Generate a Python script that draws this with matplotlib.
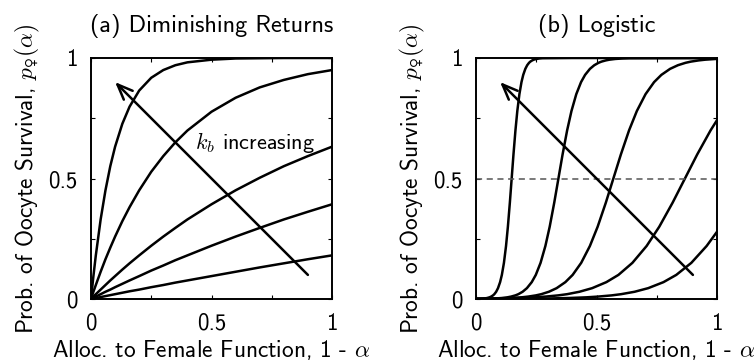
import matplotlib
matplotlib.use("Agg")
import matplotlib.pyplot as plt

plt.rcParams["font.family"] = ["cmss10", "DejaVu Sans"]
plt.rcParams["mathtext.fontset"] = "cm"
plt.rcParams["axes.unicode_minus"] = False

# (a) diminishing returns
x_dr = [0, 0.01, 0.02, 0.04, 0.06, 0.08, 0.1, 0.13, 0.16, 0.2, 0.25, 0.3, 0.35, 0.4,
        0.5, 0.6, 0.7, 0.8, 0.9, 1.0]
dr_curves = [
    [0, 0.095, 0.181, 0.330, 0.451, 0.551, 0.632, 0.727, 0.798, 0.865, 0.918, 0.950,
     0.970, 0.982, 0.993, 0.998, 0.999, 1.0, 1.0, 1.0],
    [0, 0.030, 0.058, 0.113, 0.165, 0.213, 0.259, 0.323, 0.381, 0.451, 0.528, 0.593,
     0.650, 0.699, 0.777, 0.835, 0.878, 0.909, 0.933, 0.950],
    [0, 0.010, 0.020, 0.039, 0.058, 0.077, 0.095, 0.122, 0.148, 0.181, 0.221, 0.259,
     0.295, 0.330, 0.393, 0.451, 0.503, 0.551, 0.593, 0.632],
    [0, 0.005, 0.010, 0.020, 0.030, 0.039, 0.049, 0.063, 0.077, 0.095, 0.118, 0.139,
     0.161, 0.181, 0.221, 0.259, 0.295, 0.330, 0.362, 0.393],
    [0, 0.002, 0.004, 0.008, 0.012, 0.016, 0.020, 0.026, 0.032, 0.039, 0.049, 0.058,
     0.068, 0.077, 0.095, 0.113, 0.131, 0.148, 0.165, 0.181],
]

# (b) logistic, each curve sampled where it bends
lg1_x = [0, 0.0073, 0.020, 0.033, 0.0458, 0.0563, 0.0628, 0.0706, 0.0760, 0.0836,
         0.0913, 0.1000, 0.1073, 0.1159, 0.1246, 0.1323, 0.1405, 0.148, 0.1555, 0.1637,
         0.1714, 0.1801, 0.1887, 0.1960, 0.2047, 0.2124, 0.2200, 0.2254, 0.2332, 0.2397,
         0.2502, 0.2630, 0.2760, 0.40, 1.0]
lg1_y = [0.0003, 0.0005, 0.001, 0.002, 0.004, 0.007, 0.01, 0.015, 0.02, 0.03, 0.045,
         0.07, 0.1, 0.15, 0.22, 0.3, 0.4, 0.5, 0.6, 0.7, 0.78, 0.85, 0.9, 0.93, 0.955,
         0.97, 0.98, 0.985, 0.99, 0.993, 0.996, 0.998, 0.999, 1.0, 1.0]
lg2_x = [0, 0.0172, 0.0467, 0.0766, 0.1061, 0.1305, 0.1454, 0.1634, 0.1758, 0.1933,
         0.2112, 0.2313, 0.2481, 0.2679, 0.2879, 0.3058, 0.3247, 0.342, 0.3593, 0.3782,
         0.3961, 0.4161, 0.4359, 0.4527, 0.4728, 0.4907, 0.5082, 0.5206, 0.5386, 0.5535,
         0.5779, 0.6074, 0.6373, 1.0]
lg2_y = [0.0003, 0.0005, 0.001, 0.002, 0.004, 0.007, 0.01, 0.015, 0.02, 0.03, 0.045,
         0.07, 0.1, 0.15, 0.22, 0.3, 0.4, 0.5, 0.6, 0.7, 0.78, 0.85, 0.9, 0.93, 0.955,
         0.97, 0.98, 0.985, 0.99, 0.993, 0.996, 0.998, 0.999, 1.0]
lg3_x = [0, 0.0385, 0.0923, 0.1454, 0.1892, 0.2162, 0.2485, 0.2708, 0.3023, 0.3346,
         0.3708, 0.4010, 0.4365, 0.4726, 0.5048, 0.5388, 0.57, 0.6012, 0.6352, 0.6674,
         0.7035, 0.7390, 0.7692, 0.8054, 0.8377, 0.8692, 0.8915, 0.9238, 0.9508, 0.9946,
         1.0]
lg3_y = [0.0006, 0.001, 0.002, 0.004, 0.007, 0.01, 0.015, 0.02, 0.03, 0.045, 0.07, 0.1,
         0.15, 0.22, 0.3, 0.4, 0.5, 0.6, 0.7, 0.78, 0.85, 0.9, 0.93, 0.955, 0.97, 0.98,
         0.985, 0.99, 0.993, 0.996, 0.996]
lg4_x = [0, 0.086, 0.173, 0.244, 0.288, 0.341, 0.378, 0.429, 0.482, 0.541, 0.591, 0.649,
         0.708, 0.7605, 0.816, 0.867, 0.918, 0.9735, 1.0]
lg4_y = [0.001, 0.002, 0.004, 0.007, 0.01, 0.015, 0.02, 0.03, 0.045, 0.07, 0.1, 0.15,
         0.22, 0.3, 0.4, 0.5, 0.6, 0.7, 0.742]
lg5_x = [0, 0.101, 0.194, 0.289, 0.382, 0.459, 0.506, 0.563, 0.602, 0.658, 0.7145, 0.778,
         0.831, 0.8935, 0.957, 1.0]
lg5_y = [0.0002, 0.0005, 0.001, 0.002, 0.004, 0.007, 0.01, 0.015, 0.02, 0.03, 0.045,
         0.07, 0.1, 0.15, 0.22, 0.279]
lg_curves = [(lg1_x, lg1_y), (lg2_x, lg2_y), (lg3_x, lg3_y), (lg4_x, lg4_y),
             (lg5_x, lg5_y)]

ticks = [0, 0.25, 0.5, 0.75, 1]
tick_labels = ["0", "", "0.5", "", "1"]
titles = ["(a) Diminishing Returns", "(b) Logistic"]
xlab = "Alloc. to Female Function, 1 - $\\alpha$"
ylab = "Prob. of Oocyte Survival, $p_{\u2640}(\\alpha)$"

fig = plt.figure(figsize=(7.56, 3.64), dpi=100)
ax1 = fig.add_axes([91 / 756, 65 / 364, 241 / 756, 241 / 364])
ax2 = fig.add_axes([476 / 756, 65 / 364, 241 / 756, 241 / 364])

for ys in dr_curves:
    ax1.plot(x_dr, ys, color="black", lw=1.8, solid_joinstyle="round")
for xs, ys in lg_curves:
    ax2.plot(xs, ys, color="black", lw=1.8, solid_joinstyle="round")

for ax, title in [(ax1, titles[0]), (ax2, titles[1])]:
    ax.set_xlim(0, 1)
    ax.set_ylim(0, 1)
    ax.set_xticks(ticks)
    ax.set_yticks(ticks)
    ax.set_xticklabels(tick_labels)
    ax.set_yticklabels(tick_labels)
    ax.tick_params(direction="in", length=3, width=0.8, top=True, right=True,
                   labelsize=16.5)
    ax.tick_params(axis="x", pad=10)
    ax.tick_params(axis="y", pad=9.5)
    for s in ax.spines.values():
        s.set_linewidth(1.4)
    ax.set_title(title, fontsize=17.5, pad=19)
    ax.set_xlabel(xlab, fontsize=16.8, labelpad=2.5)
    ax.set_ylabel(ylab, fontsize=16.8, labelpad=5)
    ax.annotate("", xy=(0.1, 0.9), xytext=(0.9, 0.1),
                arrowprops=dict(arrowstyle="->,head_length=1.1,head_width=0.45",
                                color="black", lw=1.8, shrinkA=0, shrinkB=0))

ax1.text(0.43, 0.65, "$k_b$ increasing", fontsize=16, va="center", ha="left")
ax2.axhline(0.5, color="#555555", lw=1.1, ls=(0, (4, 3)))

fig.savefig("out.png", dpi=100)
